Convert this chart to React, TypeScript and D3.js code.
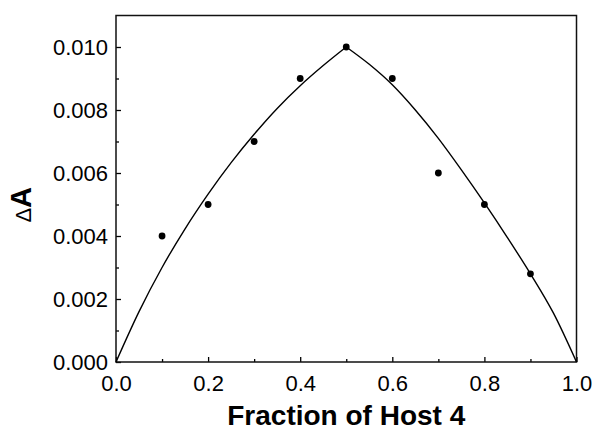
import { useEffect, useRef } from "react"
import * as d3 from "d3"

// measured points
const fractions = [0.1, 0.2, 0.3, 0.4, 0.5, 0.6, 0.7, 0.8, 0.9]
const deltaA = [0.004, 0.005, 0.007, 0.009, 0.01, 0.009, 0.006, 0.005, 0.0028]

// fitted curve (left and right branch meet at the peak)
const fitLeftX = [0, 0.05, 0.1, 0.15, 0.2, 0.25, 0.3, 0.35, 0.4, 0.45, 0.5]
const fitLeftY = [0, 0.0016, 0.003, 0.00423, 0.00533, 0.00633, 0.00723, 0.00805, 0.00877, 0.00941, 0.01]
const fitRightX = [0.5, 0.55, 0.6, 0.65, 0.7, 0.75, 0.8, 0.85, 0.9, 0.95, 1]
const fitRightY = [0.01, 0.00945, 0.0088, 0.008, 0.0071, 0.0061, 0.00505, 0.00395, 0.0028, 0.00155, 0]

const xTicks = [0, 0.2, 0.4, 0.6, 0.8, 1.0]
const xMinor = [0.1, 0.3, 0.5, 0.7, 0.9]
const yTicks = [0, 0.002, 0.004, 0.006, 0.008, 0.01]
const yMinor = [0.001, 0.003, 0.005, 0.007, 0.009]

export default function App() {
  const svgRef = useRef(null)

  useEffect(() => {
    if (!svgRef.current) return
    const svg = d3.select(svgRef.current)
    svg.selectAll("*").remove()

    const width = 592
    const height = 432
    const left = 116
    const right = 576.5
    const top = 15.5
    const bottom = 362

    const x = d3.scaleLinear().domain([0, 1]).range([left, right])
    const y = d3.scaleLinear().domain([0, 0.011]).range([bottom, top])

    const font = "Arial, 'Liberation Sans', Helvetica, sans-serif"

    // x axis ticks (inward)
    const gx = svg.append("g").attr("transform", `translate(0,${bottom})`)
    gx.call(d3.axisBottom(x).tickValues(xTicks).tickSize(-5).tickPadding(13).tickFormat(d3.format(".1f")))
    gx.select(".domain").remove()
    gx.selectAll("line").attr("stroke", "#000").attr("stroke-width", 1.3)
    gx.selectAll("text").attr("font-size", "22px").attr("font-family", font).attr("fill", "#000")
    const gxm = svg.append("g").attr("transform", `translate(0,${bottom})`)
    gxm.call(d3.axisBottom(x).tickValues(xMinor).tickSize(-3).tickFormat(() => ""))
    gxm.select(".domain").remove()
    gxm.selectAll("line").attr("stroke", "#000").attr("stroke-width", 1.3)

    // y axis ticks (inward)
    const gy = svg.append("g").attr("transform", `translate(${left},0)`)
    gy.call(d3.axisLeft(y).tickValues(yTicks).tickSize(-5).tickPadding(8).tickFormat(d3.format(".3f")))
    gy.select(".domain").remove()
    gy.selectAll("line").attr("stroke", "#000").attr("stroke-width", 1.3)
    gy.selectAll("text").attr("font-size", "22px").attr("font-family", font).attr("fill", "#000")
    const gym = svg.append("g").attr("transform", `translate(${left},0)`)
    gym.call(d3.axisLeft(y).tickValues(yMinor).tickSize(-3).tickFormat(() => ""))
    gym.select(".domain").remove()
    gym.selectAll("line").attr("stroke", "#000").attr("stroke-width", 1.3)

    // frame
    svg.append("rect")
      .attr("x", left)
      .attr("y", top)
      .attr("width", right - left)
      .attr("height", bottom - top)
      .attr("fill", "none")
      .attr("stroke", "#111")
      .attr("stroke-width", 1.5)

    // fit curve
    const line = d3.line<number>()
      .x((d) => x(d))
      .curve(d3.curveMonotoneX)
    svg.append("path")
      .attr("fill", "none")
      .attr("stroke", "#000")
      .attr("stroke-width", 1.4)
      .attr("d", line.y((_, i) => y(fitLeftY[i]))(fitLeftX))
    svg.append("path")
      .attr("fill", "none")
      .attr("stroke", "#000")
      .attr("stroke-width", 1.4)
      .attr("d", line.y((_, i) => y(fitRightY[i]))(fitRightX))

    // points
    svg.selectAll(".dot")
      .data(fractions)
      .enter()
      .append("circle")
      .attr("class", "dot")
      .attr("cx", (d) => x(d))
      .attr("cy", (_, i) => y(deltaA[i]))
      .attr("r", 3.4)
      .attr("fill", "#000")

    // axis titles
    svg.append("text")
      .attr("x", (left + right) / 2)
      .attr("y", 425)
      .attr("text-anchor", "middle")
      .attr("font-size", "28px")
      .attr("font-weight", "bold")
      .attr("font-family", font)
      .text("Fraction of Host 4")

    const yt = svg.append("text")
      .attr("transform", `translate(31,${(top + bottom) / 2 + 16}) rotate(-90)`)
      .attr("text-anchor", "middle")
      .attr("font-family", font)
    yt.append("tspan").attr("font-size", "22px").text("Δ")
    yt.append("tspan").attr("font-size", "29px").attr("font-weight", "bold").text("A")

    svg.attr("width", width).attr("height", height).attr("viewBox", [0, 0, width, height])
  }, [])

  return (
    <svg
      ref={svgRef}
      style={{ position: "absolute", left: 0, top: 0, background: "#fff" }}
    ></svg>
  )
}
